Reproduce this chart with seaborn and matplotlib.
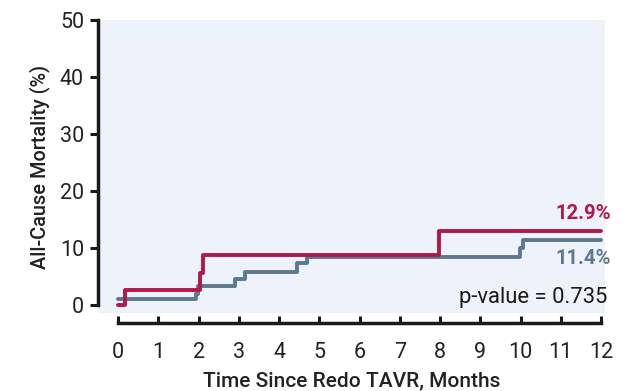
import matplotlib
matplotlib.use("Agg")
import matplotlib.pyplot as plt
import seaborn as sns
import pandas as pd
import numpy as np

# step curves
red_t = [0, 0.17, 2.03, 2.1, 7.97, 12]
red_v = [0, 2.6, 5.7, 8.8, 12.9, 12.9]
blue_t = [0, 1.93, 1.98, 2.9, 3.15, 4.45, 4.7, 9.98, 10.05, 12]
blue_v = [1.0, 2.0, 3.3, 4.6, 5.8, 7.3, 8.4, 10.0, 11.4, 11.4]

red_label = "12.9%"
blue_label = "11.4%"
p_text = "p-value = 0.735"
x_ticks = list(range(0, 13))
y_ticks = [0, 10, 20, 30, 40, 50]

red_c = "#b3184c"
blue_c = "#5e7891"
bg = "#eef3fb"

df = pd.DataFrame({
    "t": red_t + blue_t,
    "v": red_v + blue_v,
    "grp": ["red"] * len(red_t) + ["blue"] * len(blue_t),
})

sns.set_style("white")
plt.rcParams["font.family"] = ["Roboto", "DejaVu Sans"]

fig = plt.figure(figsize=(6.3, 3.91), dpi=100)
ax = fig.add_axes([98 / 630, 1 - 313 / 391, 507 / 630, 293 / 391])
ax.set_facecolor(bg)

sns.lineplot(data=df, x="t", y="v", hue="grp", palette={"red": red_c, "blue": blue_c},
             drawstyle="steps-post", linewidth=2.8, legend=False, ax=ax, estimator=None,
             sort=False, hue_order=["blue", "red"])

ax.set_xlim(-0.5, 12.1)
ax.set_ylim(-1.4, 50)
ax.set_xticks(x_ticks)
ax.set_yticks(y_ticks)

for s in ["top", "right"]:
    ax.spines[s].set_visible(False)
ax.spines["left"].set_bounds(0, 50)
ax.spines["left"].set_linewidth(2.5)
ax.spines["left"].set_color("#1a1a1a")
ax.spines["bottom"].set_position(("outward", 7))
ax.spines["bottom"].set_bounds(0, 12)
ax.spines["bottom"].set_linewidth(2.5)
ax.spines["bottom"].set_color("#1a1a1a")

ax.tick_params(axis="y", direction="out", length=6, width=2.2, color="#1a1a1a",
               labelsize=15.5, pad=4, left=True, labelcolor="#222222")
ax.tick_params(axis="x", direction="in", length=5, width=2.2, color="#1a1a1a",
               labelsize=15.5, pad=14, bottom=True, labelcolor="#222222")

ax.set_xlabel("Time Since Redo TAVR, Months", fontsize=15, fontweight="medium",
              labelpad=6, color="#222222")
ax.set_ylabel("All-Cause Mortality (%)", fontsize=14.3, fontweight="medium",
              labelpad=7, color="#222222")

ax.text(12.25, 16.1, red_label, color=red_c, fontsize=14.6, fontweight="bold",
        ha="right", va="center")
ax.text(12.25, 8.2, blue_label, color=blue_c, fontsize=14.6, fontweight="bold",
        ha="right", va="center")
ax.text(12.15, 1.4, p_text, color="#1a1a1a", fontsize=15.8, ha="right", va="center")

fig.savefig("out.png", dpi=100)
